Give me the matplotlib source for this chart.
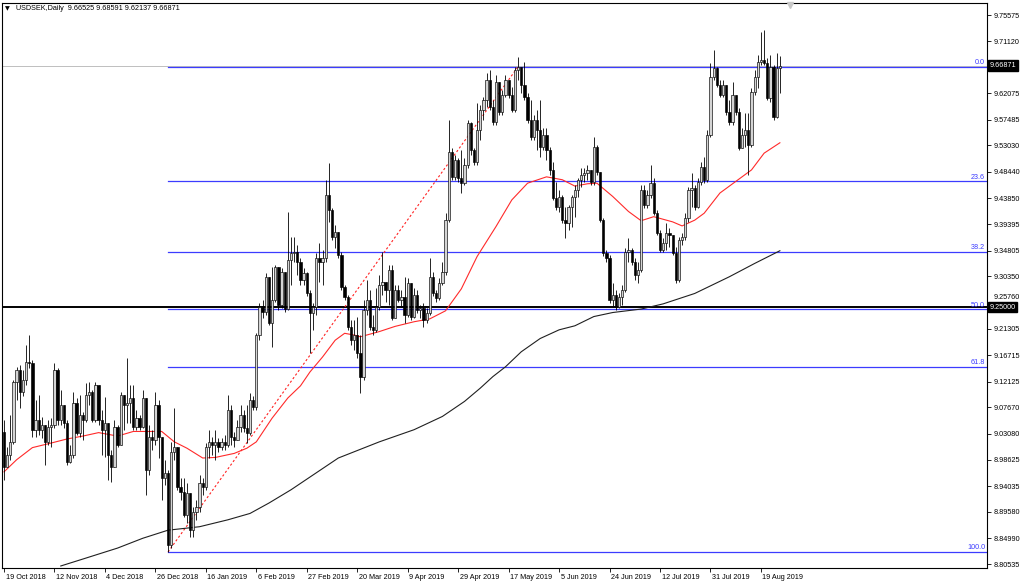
import matplotlib
matplotlib.use("Agg")
import matplotlib.pyplot as plt
import matplotlib.transforms as mtransforms

plt.rcParams['font.family'] = ['Liberation Sans', 'DejaVu Sans']

# ---------------- data ----------------
title_text = "USDSEK,Daily"
last_ohlc = [9.66525, 9.68591, 9.62137, 9.66871]

first_open = 9.034
closes = [
    8.974, 8.995, 9.017, 9.121, 9.141, 9.103, 9.124, 9.155, 9.154, 9.038,
    9.055, 9.038, 9.046, 9.017, 9.043, 9.046, 9.141, 9.055, 9.081, 9.050,
    8.982, 8.995, 9.084, 9.033, 9.064, 9.055, 9.098, 9.103, 9.055, 9.116,
    9.055, 9.038, 9.050, 8.995, 8.974, 9.043, 9.012, 9.098, 9.081, 9.084,
    9.093, 9.043, 9.059, 9.043, 9.093, 8.968, 9.026, 9.020, 9.081, 9.026,
    8.955, 8.963, 8.838, 9.000, 9.008, 8.939, 8.930, 8.890, 8.928, 8.864,
    8.896, 8.904, 8.946, 8.939, 9.008, 9.017, 9.012, 9.017, 9.008, 9.017,
    9.012, 9.072, 9.026, 9.020, 9.043, 9.064, 9.041, 9.033, 9.090, 9.077,
    9.202, 9.251, 9.242, 9.303, 9.223, 9.263, 9.320, 9.254, 9.311, 9.247,
    9.332, 9.344, 9.346, 9.328, 9.297, 9.310, 9.275, 9.240, 9.251, 9.335,
    9.328, 9.335, 9.445, 9.419, 9.371, 9.380, 9.341, 9.285, 9.268, 9.216,
    9.193, 9.202, 9.171, 9.129, 9.245, 9.263, 9.216, 9.211, 9.251, 9.289,
    9.294, 9.280, 9.315, 9.231, 9.280, 9.263, 9.268, 9.237, 9.292, 9.233,
    9.272, 9.245, 9.249, 9.228, 9.240, 9.303, 9.275, 9.266, 9.292, 9.311,
    9.401, 9.519, 9.476, 9.505, 9.474, 9.465, 9.497, 9.569, 9.523, 9.502,
    9.557, 9.592, 9.609, 9.644, 9.597, 9.571, 9.640, 9.588, 9.618, 9.644,
    9.618, 9.592, 9.661, 9.666, 9.635, 9.614, 9.575, 9.545, 9.575, 9.557,
    9.528, 9.549, 9.523, 9.488, 9.439, 9.424, 9.441, 9.401, 9.396, 9.424,
    9.441, 9.453, 9.471, 9.479, 9.483, 9.488, 9.467, 9.528, 9.484, 9.401,
    9.344, 9.335, 9.263, 9.272, 9.251, 9.268, 9.280, 9.346, 9.349, 9.328,
    9.306, 9.315, 9.453, 9.427, 9.445, 9.465, 9.413, 9.378, 9.349, 9.362,
    9.378, 9.375, 9.344, 9.297, 9.367, 9.371, 9.405, 9.453, 9.457, 9.424,
    9.467, 9.493, 9.471, 9.549, 9.649, 9.665, 9.635, 9.618, 9.635, 9.588,
    9.571, 9.618, 9.588, 9.526, 9.549, 9.557, 9.531, 9.623, 9.649, 9.675,
    9.678, 9.673, 9.613, 9.666, 9.580, 9.66525, 9.66871,
]
highs = [
    9.055, 9.008, 9.064, 9.124, 9.147, 9.150, 9.141, 9.185, 9.202, 9.159,
    9.090, 9.098, 9.060, 9.046, 9.055, 9.059, 9.154, 9.145, 9.107, 9.081,
    9.055, 9.012, 9.103, 9.093, 9.098, 9.069, 9.119, 9.121, 9.107, 9.121,
    9.116, 9.072, 9.095, 9.043, 9.003, 9.055, 9.046, 9.103, 9.098, 9.162,
    9.116, 9.116, 9.072, 9.064, 9.107, 9.093, 9.046, 9.038, 9.103, 9.090,
    9.003, 8.986, 8.968, 9.017, 9.076, 8.995, 8.955, 8.955, 8.946, 8.920,
    8.904, 8.916, 8.960, 8.955, 9.015, 9.038, 9.026, 9.038, 9.024, 9.024,
    9.029, 9.098, 9.081, 9.034, 9.055, 9.081, 9.072, 9.081, 9.102, 9.096,
    9.205, 9.257, 9.263, 9.310, 9.301, 9.320, 9.323, 9.315, 9.318, 9.306,
    9.415, 9.371, 9.371, 9.358, 9.335, 9.318, 9.311, 9.280, 9.257, 9.344,
    9.362, 9.349, 9.471, 9.500, 9.422, 9.393, 9.375, 9.346, 9.289, 9.272,
    9.228, 9.228, 9.233, 9.202, 9.263, 9.297, 9.280, 9.237, 9.284, 9.306,
    9.346, 9.289, 9.323, 9.323, 9.289, 9.289, 9.280, 9.303, 9.301, 9.289,
    9.284, 9.280, 9.254, 9.257, 9.249, 9.335, 9.311, 9.280, 9.301, 9.328,
    9.413, 9.575, 9.526, 9.514, 9.509, 9.523, 9.509, 9.575, 9.571, 9.526,
    9.604, 9.600, 9.614, 9.656, 9.661, 9.609, 9.652, 9.640, 9.626, 9.652,
    9.630, 9.632, 9.666, 9.684, 9.666, 9.675, 9.621, 9.609, 9.583, 9.592,
    9.609, 9.561, 9.561, 9.528, 9.502, 9.467, 9.453, 9.445, 9.424, 9.427,
    9.445, 9.462, 9.474, 9.491, 9.491, 9.497, 9.488, 9.545, 9.531, 9.484,
    9.405, 9.349, 9.341, 9.292, 9.280, 9.275, 9.289, 9.353, 9.370, 9.353,
    9.335, 9.328, 9.462, 9.462, 9.453, 9.497, 9.474, 9.419, 9.384, 9.370,
    9.396, 9.388, 9.375, 9.355, 9.371, 9.378, 9.413, 9.458, 9.483, 9.462,
    9.474, 9.502, 9.510, 9.557, 9.673, 9.696, 9.666, 9.644, 9.644, 9.635,
    9.609, 9.640, 9.618, 9.596, 9.561, 9.587, 9.587, 9.630, 9.661, 9.687,
    9.727, 9.730, 9.682, 9.687, 9.670, 9.691, 9.68591,
]
lows = [
    8.951, 8.980, 8.986, 9.013, 9.090, 9.076, 9.096, 9.116, 9.145, 9.026,
    9.026, 9.029, 9.024, 8.977, 9.012, 9.008, 9.041, 9.046, 9.046, 9.041,
    8.977, 8.980, 8.989, 9.029, 9.026, 9.020, 9.051, 9.081, 9.051, 9.051,
    9.046, 8.995, 8.991, 8.951, 8.948, 8.974, 9.008, 9.012, 9.038, 9.050,
    9.050, 9.038, 9.038, 9.038, 9.041, 8.925, 8.960, 9.003, 9.012, 8.989,
    8.916, 8.942, 8.826, 8.833, 8.986, 8.934, 8.916, 8.887, 8.877, 8.852,
    8.852, 8.882, 8.896, 8.925, 8.934, 8.989, 8.995, 8.986, 9.000, 9.003,
    9.003, 9.008, 9.012, 9.008, 9.020, 9.034, 9.034, 9.015, 9.029, 9.072,
    9.072, 9.193, 9.231, 9.237, 9.219, 9.181, 9.259, 9.245, 9.249, 9.242,
    9.245, 9.289, 9.328, 9.306, 9.289, 9.289, 9.270, 9.171, 9.211, 9.237,
    9.294, 9.289, 9.328, 9.398, 9.367, 9.353, 9.335, 9.280, 9.263, 9.211,
    9.185, 9.176, 9.162, 9.102, 9.124, 9.237, 9.211, 9.202, 9.207, 9.245,
    9.272, 9.259, 9.254, 9.228, 9.231, 9.259, 9.251, 9.223, 9.233, 9.228,
    9.231, 9.240, 9.231, 9.216, 9.223, 9.237, 9.270, 9.259, 9.263, 9.289,
    9.306, 9.398, 9.471, 9.471, 9.467, 9.448, 9.462, 9.491, 9.514, 9.497,
    9.497, 9.540, 9.575, 9.597, 9.592, 9.566, 9.566, 9.583, 9.583, 9.614,
    9.613, 9.588, 9.588, 9.644, 9.621, 9.609, 9.569, 9.540, 9.540, 9.523,
    9.510, 9.523, 9.505, 9.479, 9.436, 9.419, 9.415, 9.396, 9.370, 9.384,
    9.389, 9.406, 9.441, 9.458, 9.467, 9.471, 9.462, 9.462, 9.479, 9.398,
    9.339, 9.328, 9.257, 9.251, 9.245, 9.249, 9.254, 9.277, 9.328, 9.323,
    9.297, 9.292, 9.311, 9.422, 9.422, 9.439, 9.410, 9.375, 9.346, 9.346,
    9.349, 9.355, 9.341, 9.292, 9.294, 9.358, 9.367, 9.398, 9.424, 9.419,
    9.422, 9.462, 9.465, 9.467, 9.545, 9.644, 9.632, 9.614, 9.614, 9.583,
    9.566, 9.566, 9.583, 9.523, 9.526, 9.528, 9.479, 9.528, 9.618, 9.630,
    9.670, 9.670, 9.609, 9.606, 9.575, 9.578, 9.62137,
]

date_labels = ["19 Oct 2018", "12 Nov 2018", "4 Dec 2018", "26 Dec 2018",
               "16 Jan 2019", "6 Feb 2019", "27 Feb 2019", "20 Mar 2019",
               "9 Apr 2019", "29 Apr 2019", "17 May 2019", "5 Jun 2019",
               "24 Jun 2019", "12 Jul 2019", "31 Jul 2019", "19 Aug 2019"]
date_step = 16

price_ticks = [9.75575, 9.71120, 9.66530, 9.62075, 9.57485, 9.53030, 9.48440,
               9.43850, 9.39395, 9.34805, 9.30350, 9.25760, 9.21305, 9.16715,
               9.12125, 9.07670, 9.03080, 8.98625, 8.94035, 8.89580, 8.84990,
               8.80535]
hidden_tick_labels = [9.66530]
raised_tick_labels = [9.25760]

ma_fast_bars = [0, 4, 9, 15, 20, 25, 30, 36, 41, 46, 50, 54, 58, 63, 67, 73, 77,
                80, 85, 90, 94, 97, 101, 105, 108, 111, 113, 119, 124, 130, 135,
                140, 145, 150, 156, 161, 166, 172, 177, 181, 185, 188, 193, 198,
                202, 206, 212, 215, 219, 222, 227, 232, 237, 241, 246]
ma_fast_vals = [8.965, 8.986, 9.007, 9.015, 9.022, 9.027, 9.033, 9.027, 9.035,
                9.035, 9.035, 9.017, 9.006, 8.989, 8.990, 8.997, 9.006, 9.017,
                9.058, 9.093, 9.114, 9.138, 9.164, 9.193, 9.205, 9.202, 9.199,
                9.208, 9.217, 9.225, 9.230, 9.244, 9.282, 9.338, 9.390, 9.436,
                9.465, 9.476, 9.471, 9.460, 9.464, 9.465, 9.442, 9.416, 9.400,
                9.407, 9.398, 9.391, 9.401, 9.413, 9.448, 9.468, 9.488, 9.517,
                9.535]

ma_slow_bars = [18, 25, 36, 44, 52, 62, 71, 78, 84, 91, 94, 106, 119, 130, 139,
                146, 151, 155, 159, 164, 170, 176, 181, 187, 193, 202, 209, 219,
                230, 238, 246]
ma_slow_vals = [8.802, 8.814, 8.833, 8.850, 8.864, 8.870, 8.882, 8.893, 8.911,
                8.934, 8.945, 8.989, 9.017, 9.038, 9.061, 9.087, 9.110, 9.130,
                9.147, 9.173, 9.196, 9.211, 9.218, 9.234, 9.241, 9.247, 9.256,
                9.274, 9.303, 9.326, 9.348]

fib_high = 9.6668
fib_low = 8.8262
fib_start_bar = 52
fib_end_bar = 163
fib_levels = [0.0, 23.6, 38.2, 50.0, 61.8, 100.0]
hline_level = 9.25000

# ---------------- figure ----------------
W, H = 1024, 584
fig = plt.figure(figsize=(W / 100, H / 100), dpi=100)
fig.patch.set_facecolor('white')
ax = fig.add_axes([2 / W, 16 / H, 985 / W, 565 / H])
ax.set_facecolor('white')

px_per_bar = 3.154
x_left = (2 - 4) / px_per_bar
x_right = (987 - 4) / px_per_bar
ax.set_xlim(x_left, x_right)
ax.set_ylim(8.7985, 9.7771)

blue = '#3c3cff'
fs = 5.2

# bid line
ax.axhline(last_ohlc[3], color='#b4b4b4', lw=0.6, zorder=1)

# fib levels
for lv in fib_levels:
    price = fib_high - (fib_high - fib_low) * lv / 100.0
    ax.plot([fib_start_bar, x_right], [price, price], color=blue, lw=0.9, zorder=2)
    ax.text(x_right - 0.6, price + 0.0012, f"{lv:.1f}", color=blue, fontsize=fs,
            ha='right', va='bottom', zorder=6)

# horizontal line
ax.axhline(hline_level, color='black', lw=1.4, zorder=3)

# trend line
ax.plot([fib_start_bar, fib_end_bar], [fib_low, fib_high], color='#ff2020',
        lw=0.8, ls=(0, (2, 2)), zorder=3)

# moving averages
ax.plot(ma_fast_bars, ma_fast_vals, color='#ff2a2a', lw=0.8, zorder=4)
ax.plot(ma_slow_bars, ma_slow_vals, color='#202020', lw=0.8, zorder=4)

# candles
n = min(len(closes), len(highs), len(lows))
opens = [first_open] + closes[:n - 1]
xs = list(range(n))
wick_lo = [min(lows[i], opens[i], closes[i]) for i in xs]
wick_hi = [max(highs[i], opens[i], closes[i]) for i in xs]
ax.vlines(xs, wick_lo, wick_hi, color='black', lw=0.6, zorder=5)
bottoms = [min(opens[i], closes[i]) for i in xs]
heights = [max(abs(closes[i] - opens[i]), 0.0012) for i in xs]
faces = ['#d4d4d4' if closes[i] >= opens[i] else 'black' for i in xs]
ax.bar(xs, heights, bottom=bottoms, width=0.72, color=faces,
       edgecolor='black', linewidth=0.45, zorder=5)

# axes styling
for s in ax.spines.values():
    s.set_color('black')
    s.set_linewidth(0.8)

ax.yaxis.tick_right()
ax.set_yticks(price_ticks)
ax.set_yticklabels(["" if p in hidden_tick_labels else f"{p:.5f}"
                    for p in price_ticks])
ax.tick_params(axis='y', direction='out', length=3, width=0.6, pad=1.5,
               labelsize=fs, colors='black')
up = mtransforms.ScaledTranslation(0, 6.5 / 100, fig.dpi_scale_trans)
for p, lab in zip(price_ticks, ax.get_yticklabels()):
    if p in raised_tick_labels:
        lab.set_transform(lab.get_transform() + up)

xt = [i * date_step for i in range(len(date_labels))]
ax.set_xticks(xt)
ax.set_xticklabels(date_labels)
ax.tick_params(axis='x', direction='out', length=3, width=0.6, pad=1.5,
               labelsize=fs, colors='black')
offset = mtransforms.ScaledTranslation(1.5 / 100, 0, fig.dpi_scale_trans)
for lab in ax.get_xticklabels():
    lab.set_ha('left')
    lab.set_transform(lab.get_transform() + offset)

# price boxes on the axis
trans = mtransforms.blended_transform_factory(ax.transAxes, ax.transData)
for val in [last_ohlc[3], hline_level]:
    ax.text(1.0 + 2.5 / 985, val, f"{val:.5f}", transform=trans, color='white',
            fontsize=fs, ha='left', va='center', zorder=10, clip_on=False,
            bbox=dict(boxstyle='square,pad=0.22', fc='black', ec='black'))

# title
fig.text(5 / W, 1 - 9 / H, "\u25BC", fontsize=4.5, ha='left', va='center',
         family=['DejaVu Sans'])
fig.text(16 / W, 1 - 9 / H,
         f"{title_text}  " + " ".join(f"{v:.5f}" for v in last_ohlc),
         fontsize=fs, ha='left', va='center')

# chart-shift marker
fig.lines.append(plt.Line2D([790 / W], [1 - 5 / H], marker='v', markersize=5,
                            color='#c8c8c8', transform=fig.transFigure))

fig.savefig('out.png', dpi=100, facecolor='white')
